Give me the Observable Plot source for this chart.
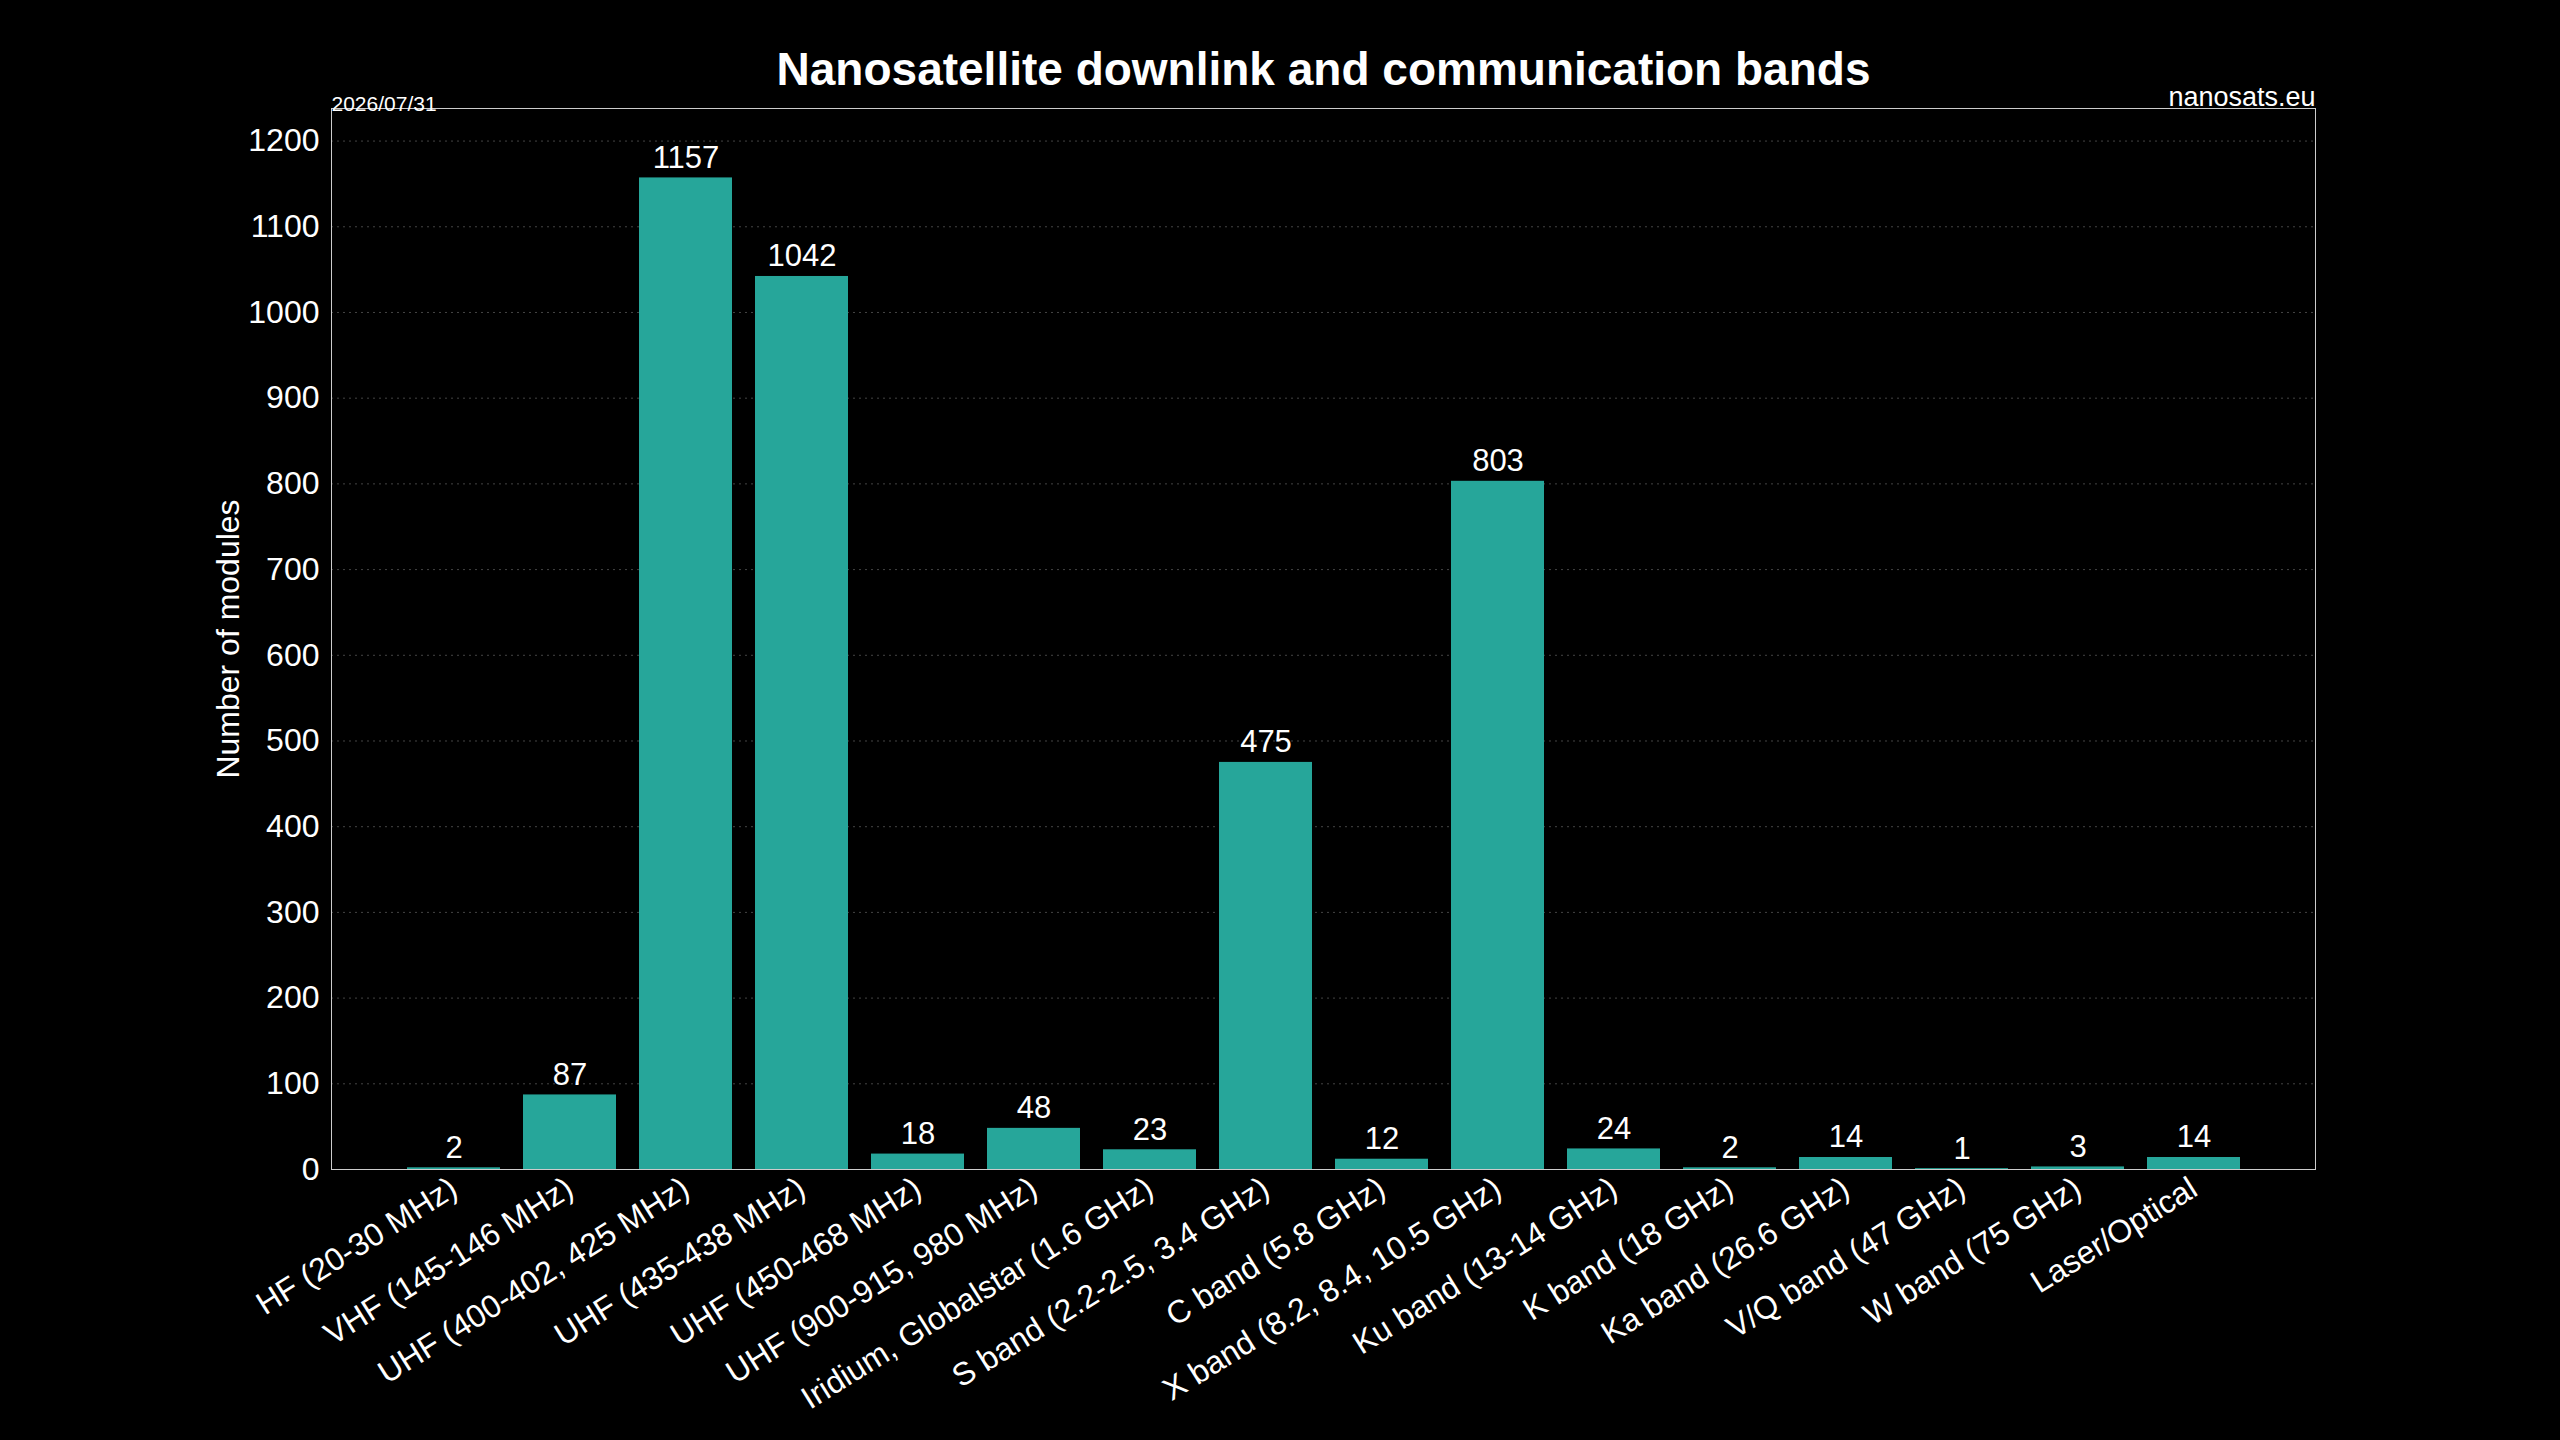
<!DOCTYPE html>
<html><head><meta charset="utf-8">
<script src="https://cdn.jsdelivr.net/npm/d3@7"></script>
<script src="https://cdn.jsdelivr.net/npm/@observablehq/plot@0.6"></script>
<style>body{margin:0;background:#000;}</style>
</head><body><div id="c"></div>
<script>
const bands = ["HF (20-30 MHz)","VHF (145-146 MHz)","UHF (400-402, 425 MHz)","UHF (435-438 MHz)","UHF (450-468 MHz)","UHF (900-915, 980 MHz)","Iridium, Globalstar (1.6 GHz)","S band (2.2-2.5, 3.4 GHz)","C band (5.8 GHz)","X band (8.2, 8.4, 10.5 GHz)","Ku band (13-14 GHz)","K band (18 GHz)","Ka band (26.6 GHz)","V/Q band (47 GHz)","W band (75 GHz)","Laser/Optical"];
const counts = [2,87,1157,1042,18,48,23,475,12,803,24,2,14,1,3,14];
const yTicks = [0,100,200,300,400,500,600,700,800,900,1000,1100,1200];
const data = bands.map((b,i)=>({band:b,count:counts[i]}));
const font = "Liberation Sans, Arial, sans-serif";
const chart = Plot.plot({
  width:2560, height:1440,
  marginLeft:331, marginRight:245, marginTop:108, marginBottom:271,
  style:{background:"#000", color:"#fff", fontFamily:font, fontSize:"32px"},
  x:{domain:bands, padding:0.2, insetLeft:47, insetRight:47, label:null, tickRotate:-32, tickSize:0, tickPadding:16},
  y:{domain:[0,1238], ticks:yTicks, tickFormat:d=>String(d), label:"Number of modules", labelArrow:"none", labelAnchor:"center", labelOffset:115, tickSize:0, tickPadding:12},
  marks:[
    Plot.gridY(yTicks,{stroke:"#555", strokeDasharray:"2,4", strokeOpacity:0.8}),
    Plot.barY(data,{x:"band", y:"count", fill:"#26a69a"}),
    Plot.text(data,{x:"band", y:"count", text:d=>String(d.count), dy:-20, fill:"#fff", fontSize:31}),
    Plot.frame({stroke:"#ccc"}),
    Plot.text(["Nanosatellite downlink and communication bands"],{frameAnchor:"top", dy:-56, fontSize:46, fontWeight:"bold", fill:"#fff"}),
    Plot.text(["2026/07/31"],{frameAnchor:"top-left", dy:-12, fontSize:21, fill:"#fff", textAnchor:"start"}),
    Plot.text(["nanosats.eu"],{frameAnchor:"top-right", dy:-22, fontSize:27, fill:"#fff", textAnchor:"end"})
  ]
});
document.getElementById("c").append(chart);
</script></body></html>
